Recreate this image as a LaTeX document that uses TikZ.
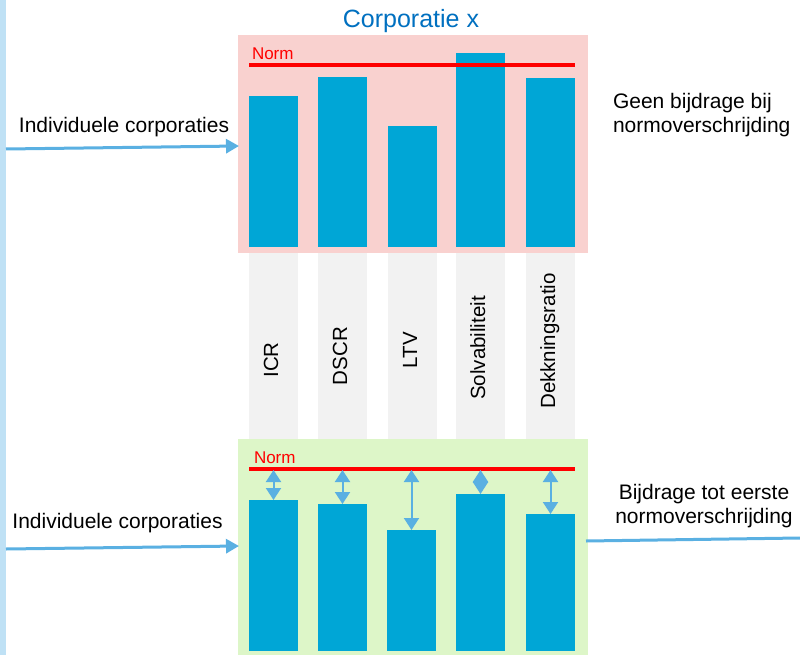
\documentclass[tikz,border=0pt]{standalone}
\usepackage{fontspec}
\setmainfont{Liberation Sans}
\usetikzlibrary{arrows.meta}
\definecolor{pinkbg}{HTML}{F9D1CF}
\definecolor{greenbg}{HTML}{DDF6C8}
\definecolor{barblue}{HTML}{00A6D6}
\definecolor{colgray}{HTML}{F2F2F2}
\definecolor{arrblue}{HTML}{5AB0E2}
\definecolor{sidebar}{HTML}{BFE1F5}
\definecolor{titleblue}{HTML}{0070C0}
\begin{document}
\begin{tikzpicture}[x=1pt,y=-1pt]
\tikzset{
 every node/.style={inner sep=0pt, outer sep=0pt},
 panel/.style={draw=none, minimum width=350pt, anchor=north west},
 bar/.style={fill=barblue, minimum width=49pt, anchor=south west},
 colbox/.style={fill=colgray, minimum width=49pt, minimum height=193pt, anchor=north west},
 conn/.style={draw=arrblue, line width=3pt, -{Triangle[length=13pt,width=14pt]}},
 plainconn/.style={draw=arrblue, line width=3pt},
 gaparrow/.style={draw=arrblue, line width=2pt, {Triangle[length=12pt,width=15pt]}-{Triangle[length=12pt,width=15pt]}},
 normline/.style={draw=red, line width=3.5pt},
 normlabel/.style={text=red, font=\fontsize{17}{17}\selectfont, anchor=base west},
 sidetext/.style={font=\fontsize{21}{24}\selectfont},
 axislabel/.style={rotate=90, font=\fontsize{20.5}{20.5}\selectfont, text height=15pt, text depth=4pt}
}
\useasboundingbox (0,0) rectangle (800,655);
\fill[white] (0,0) rectangle (800,655);
% left side bar
\fill[sidebar] (0,0) rectangle (6,655);
% grey label columns
\node[colbox] (c1) at (249,247) {};
\node[colbox] (c2) at (318,247) {};
\node[colbox] (c3) at (388,247) {};
\node[colbox] (c4) at (456,247) {};
\node[colbox] (c5) at (526,247) {};
% panels
\node[panel, fill=pinkbg, minimum height=218pt] (pink) at (238,35) {};
\node[panel, fill=greenbg, minimum height=216pt] (green) at (238,439) {};
% title
\node[text=titleblue, font=\fontsize{25}{25}\selectfont, anchor=base] (title) at (411,27.5) {Corporatie x};
% top bars
\node[bar, minimum height=151pt] (t1) at (249,247) {};
\node[bar, minimum height=170pt] (t2) at (318,247) {};
\node[bar, minimum height=121pt] (t3) at (388,247) {};
\node[bar, minimum height=194pt] (t4) at (456,247) {};
\node[bar, minimum height=169pt] (t5) at (526,247) {};
% top norm
\coordinate (ntl) at (249,65);
\coordinate (ntr) at (575,65);
\draw[normline] (ntl) -- (ntr);
\node[normlabel] (normt) at (252,60) {Norm};
% bottom bars
\node[bar, minimum height=151pt] (g1) at (249,651) {};
\node[bar, minimum height=147pt] (g2) at (318,651) {};
\node[bar, minimum height=121pt] (g3) at (387,651) {};
\node[bar, minimum height=157pt] (g4) at (456,651) {};
\node[bar, minimum height=137pt] (g5) at (526,651) {};
% bottom norm
\coordinate (nbl) at (249,469);
\coordinate (nbr) at (575,469);
\draw[normline] (nbl) -- (nbr);
\node[normlabel] (normb) at (254,463) {Norm};
% gap arrows
\coordinate (nlev) at (249,470);
\foreach \i in {1,...,5}{
  \draw[gaparrow] (g\i.north |- nlev) -- (g\i.north);
}
% axis labels
\node[axislabel] (lab1) at (272.5,360) {ICR};
\node[axislabel] (lab2) at (341.5,356) {DSCR};
\node[axislabel] (lab3) at (411.5,350) {LTV};
\node[axislabel] (lab4) at (479.5,348) {Solvabiliteit};
\node[axislabel] (lab5) at (549.5,341) {Dekkningsratio};
% left texts and arrows
\node[sidetext, anchor=base] (ind1) at (124,133) {Individuele corporaties};
\coordinate (a1s) at (6,149);
\coordinate (a1e) at (239,146);
\draw[conn] (a1s) -- (a1e);
\node[sidetext, anchor=base] (ind2) at (117.5,528) {Individuele corporaties};
\coordinate (a2s) at (6,549);
\coordinate (a2e) at (239,546);
\draw[conn] (a2s) -- (a2e);
% right texts
\node[sidetext, align=left, anchor=base west] (geen) at (613,133) {Geen bijdrage bij\\normoverschrijding};
\node[sidetext, align=center, anchor=base] (bijd) at (704,523) {Bijdrage tot eerste\\normoverschrijding};
\coordinate (r1s) at (586,541);
\coordinate (r1e) at (800,538);
\draw[plainconn] (r1s) -- (r1e);
\end{tikzpicture}
\end{document}
